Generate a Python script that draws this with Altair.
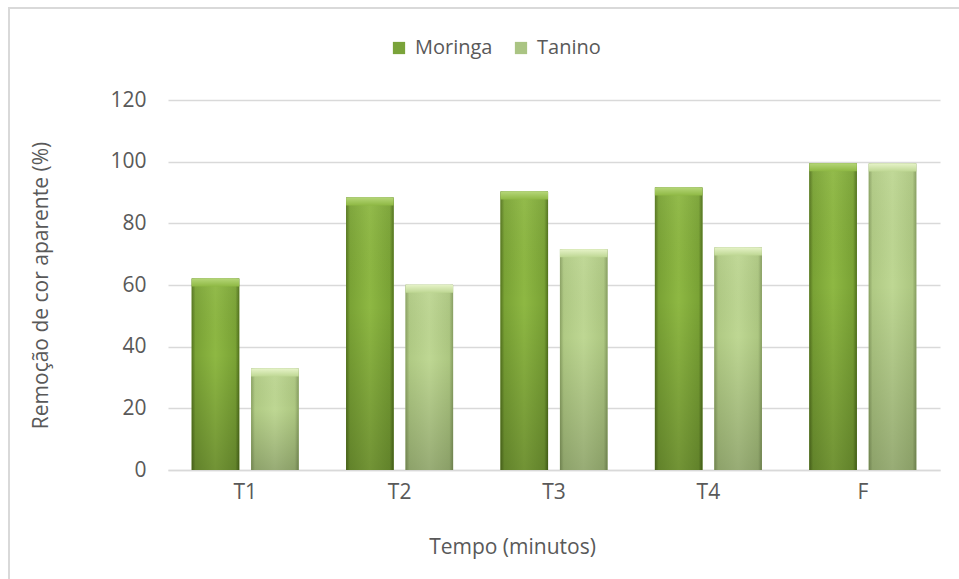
import altair as alt
import pandas as pd

categories = ["T1", "T2", "T3", "T4", "F"]
series = ["Moringa", "Tanino"]
moringa = [62.1, 88.4, 90.3, 91.6, 99.5]
tanino = [32.9, 60.1, 71.6, 72.2, 99.4]
y_ticks = [0, 20, 40, 60, 80, 100, 120]

rows = []
for c, m, t in zip(categories, moringa, tanino):
    rows.append({"Tempo": c, "Serie": "Moringa", "valor": m})
    rows.append({"Tempo": c, "Serie": "Tanino", "valor": t})
df = pd.DataFrame(rows)

FONT = "Open Sans"
TXT = "#595959"
FS = 21

x_enc = alt.X(
    "Tempo:N", sort=categories,
    scale=alt.Scale(paddingInner=0.307, paddingOuter=0.1535),
    axis=alt.Axis(title="Tempo (minutos)", labelAngle=0, ticks=False,
                  domainColor="#d9d9d9", domainWidth=1.5, labelPadding=11,
                  titlePadding=34, titleX=344, titleAlign="center", grid=False),
)
xo_enc = alt.XOffset("Serie:N", sort=series,
                     scale=alt.Scale(paddingInner=0.2, paddingOuter=0))
y_enc = alt.Y(
    "valor:Q", scale=alt.Scale(domain=[0, 120]),
    axis=alt.Axis(title="Remoção de cor aparente (%)", values=y_ticks,
                  ticks=False, domain=False, gridColor="#d9d9d9",
                  gridWidth=1.5, labelPadding=22, titlePadding=58),
)

base = alt.Chart(df)

legend_layer = base.mark_bar().encode(
    x=x_enc, xOffset=xo_enc, y=y_enc,
    color=alt.Color("Serie:N", sort=series,
                    scale=alt.Scale(domain=series, range=["#7aa33a", "#aac483"]),
                    legend=alt.Legend(title=None, orient="none", direction="horizontal",
                                      legendX=221, legendY=-62, symbolType="square",
                                      symbolSize=150, symbolStrokeWidth=0,
                                      labelFontSize=20, labelColor=TXT, labelFont=FONT,
                                      columnPadding=18, labelOffset=6)),
)


def hgrad(stops):
    return alt.Gradient(gradient="linear", x1=0, x2=1, y1=0, y2=0,
                        stops=[alt.GradientStop(color=c, offset=o) for o, c in stops])


mor_grad = hgrad([(0, "#55741f"), (0.08, "#7aa335"), (0.5, "#8eb843"),
                  (0.92, "#7aa335"), (1, "#50701c")])
tan_grad = hgrad([(0, "#8aa163"), (0.08, "#b0ca84"), (0.5, "#bed793"),
                  (0.92, "#adc781"), (1, "#869d60")])

mor_layer = base.transform_filter(alt.datum.Serie == "Moringa").mark_bar(
    fill=mor_grad).encode(x=x_enc, xOffset=xo_enc, y=y_enc)
tan_layer = base.transform_filter(alt.datum.Serie == "Tanino").mark_bar(
    fill=tan_grad).encode(x=x_enc, xOffset=xo_enc, y=y_enc)

shade = alt.Gradient(gradient="linear", x1=0, x2=0, y1=0, y2=1, stops=[
    alt.GradientStop(color="rgba(255,255,255,0.05)", offset=0),
    alt.GradientStop(color="rgba(0,0,0,0.0)", offset=0.4),
    alt.GradientStop(color="rgba(0,0,0,0.2)", offset=1),
])
shade_layer = base.mark_bar(fill=shade).encode(x=x_enc, xOffset=xo_enc, y=y_enc)

bev_m = alt.Gradient(gradient="linear", x1=0, x2=0, y1=0, y2=1, stops=[
    alt.GradientStop(color="#b5d678", offset=0),
    alt.GradientStop(color="#8eb843", offset=1)])
bev_t = alt.Gradient(gradient="linear", x1=0, x2=0, y1=0, y2=1, stops=[
    alt.GradientStop(color="#e6f3c8", offset=0),
    alt.GradientStop(color="#bed793", offset=1)])

bevel_base = base.transform_calculate(lo="datum.valor - 2.6")
bev_m_layer = bevel_base.transform_filter(alt.datum.Serie == "Moringa").mark_bar(
    fill=bev_m).encode(x=x_enc, xOffset=xo_enc, y=y_enc, y2="lo:Q")
bev_t_layer = bevel_base.transform_filter(alt.datum.Serie == "Tanino").mark_bar(
    fill=bev_t).encode(x=x_enc, xOffset=xo_enc, y=y_enc, y2="lo:Q")

frame = alt.Chart(pd.DataFrame({"a": [0]})).mark_rect(
    fill=None, stroke="#d9d9d9", strokeWidth=2, clip=False).encode(
    x=alt.value(-159), x2=alt.value(820), y=alt.value(-92), y2=alt.value(520))

chart = alt.layer(
    frame, legend_layer, mor_layer, tan_layer, shade_layer, bev_m_layer, bev_t_layer
).properties(
    width=772, height=370,
    autosize=alt.AutoSizeParams(type="none"),
    padding={"left": 168, "top": 100, "right": 19, "bottom": 109},
    background="white",
).configure_view(stroke=None).configure_axis(
    labelFont=FONT, titleFont=FONT, labelFontSize=FS, titleFontSize=FS,
    labelColor=TXT, titleColor=TXT, titleFontWeight="normal",
)

chart.save("out.html", embed_options={"renderer": "svg", "actions": False})
